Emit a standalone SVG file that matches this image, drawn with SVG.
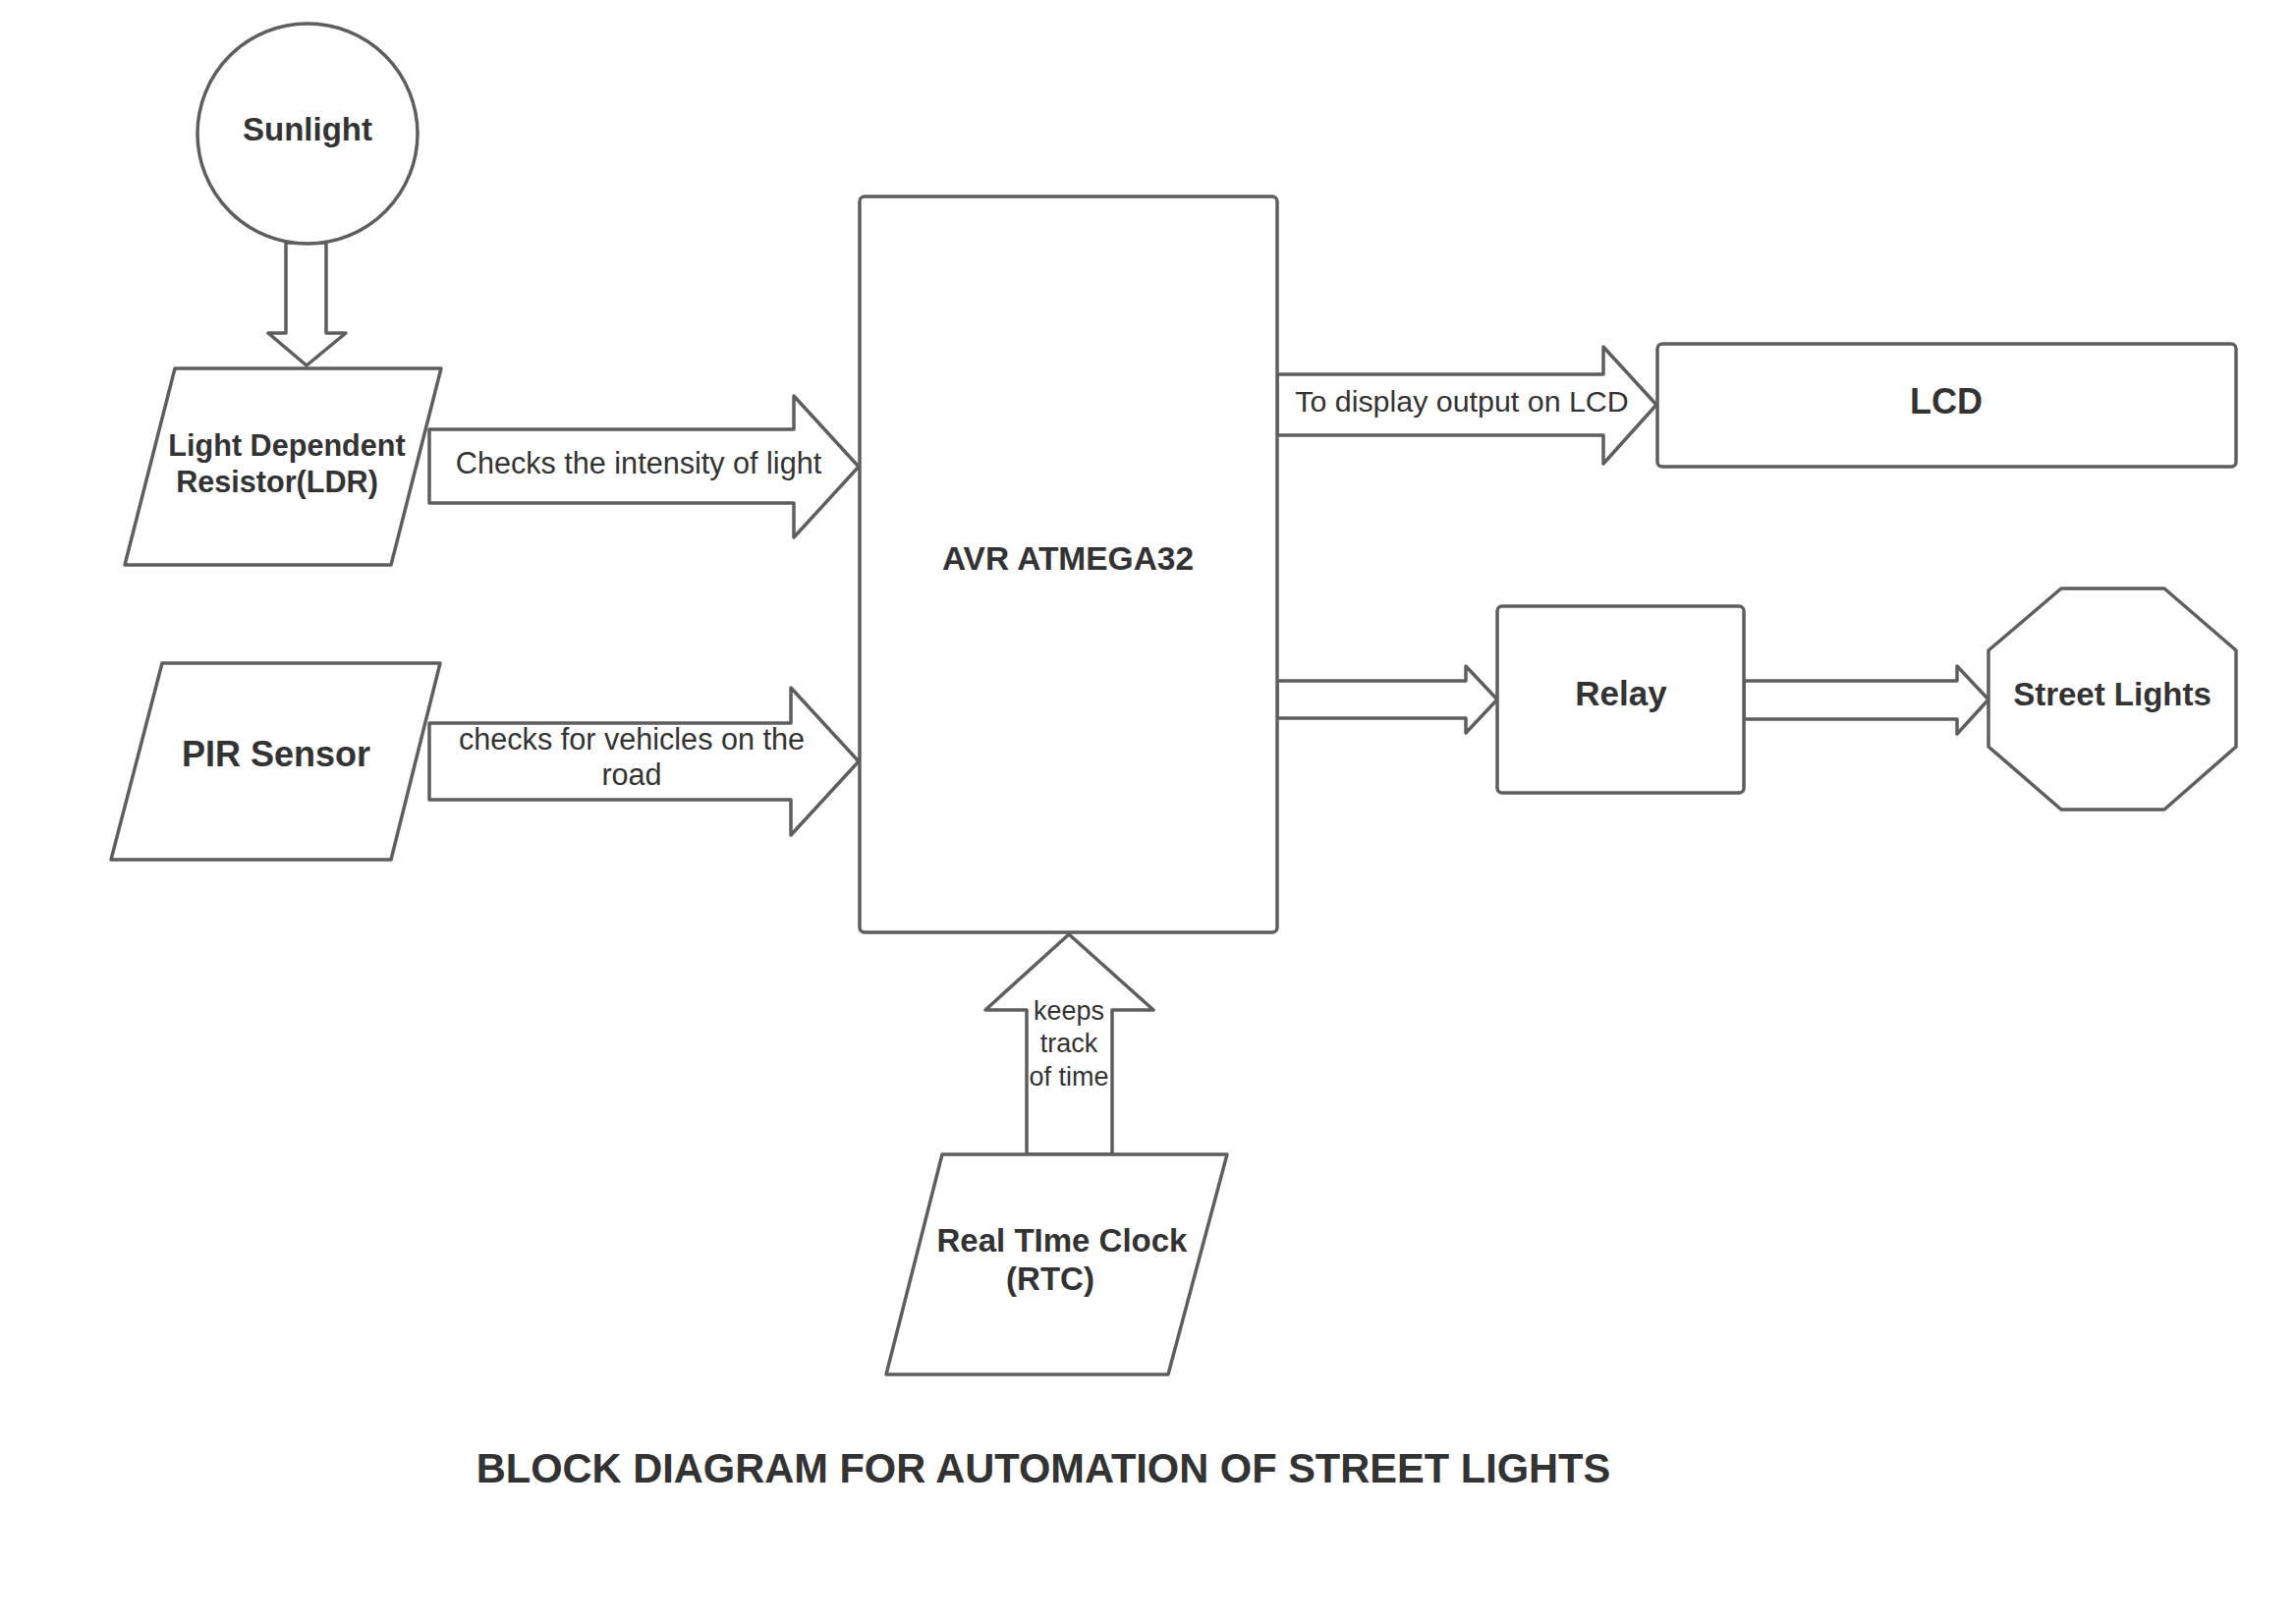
<svg xmlns="http://www.w3.org/2000/svg" width="2337" height="1653" viewBox="0 0 2337 1653">
<style>
.s{fill:#ffffff;stroke:#5e5e5e;stroke-width:3.5;stroke-linejoin:round}
.b{font-family:"Liberation Sans",Arial,sans-serif;font-weight:bold;fill:#333333;text-anchor:middle}
.r{font-family:"Liberation Sans",Arial,sans-serif;fill:#333333;text-anchor:middle}
</style>
<rect width="2337" height="1653" fill="#ffffff"/>
<g id="connectors">
  <path class="s" d="M291,247 L332,247 L332,339 L352,339 L312,372 L273,339 L291,339 Z"/>
  <path class="s" d="M437,437 L808,437 L808,403 L874,475 L808,547 L808,512 L437,512 Z"/>
  <path class="s" d="M437,736 L805,736 L805,700 L874,775 L805,850 L805,814 L437,814 Z"/>
  <path class="s" d="M1300,381 L1632,381 L1632,353 L1686,412 L1632,472 L1632,443 L1300,443 Z"/>
  <path class="s" d="M1300,693 L1492,693 L1492,678 L1524,712 L1492,746 L1492,731 L1300,731 Z"/>
  <path class="s" d="M1775,693 L1992,693 L1992,678 L2024,712 L1992,747 L1992,732 L1775,732 Z"/>
  <path class="s" d="M1045,1175 L1045,1028 L1003,1028 L1088,951 L1174,1028 L1132,1028 L1132,1175 Z"/>
  <text class="r" font-size="30.6" x="650" y="482">Checks the intensity of light</text>
  <text class="r" font-size="30.6" x="643" y="763">checks for vehicles on the</text>
  <text class="r" font-size="30.6" x="643" y="799">road</text>
  <text class="r" font-size="30.4" x="1488" y="419">To display output on LCD</text>
  <text class="r" font-size="27" x="1088" y="1038">keeps</text>
  <text class="r" font-size="27" x="1088" y="1071">track</text>
  <text class="r" font-size="27" x="1088" y="1105">of time</text>
</g>
<g id="sunlight">
  <circle class="s" cx="313" cy="136" r="112"/>
  <text class="b" font-size="33" x="313" y="143">Sunlight</text>
</g>
<g id="ldr">
  <path class="s" d="M178,375 L449,375 L398,575 L127,575 Z"/>
  <text class="b" font-size="30.6" x="292" y="464">Light Dependent</text>
  <text class="b" font-size="30.6" x="282" y="501">Resistor(LDR)</text>
</g>
<g id="pir">
  <path class="s" d="M165,675 L448,675 L398,875 L113,875 Z"/>
  <text class="b" font-size="36" x="281" y="780">PIR Sensor</text>
</g>
<g id="avr">
  <rect class="s" x="875" y="200" width="425" height="749" rx="5"/>
  <text class="b" font-size="33.5" x="1087" y="580">AVR ATMEGA32</text>
</g>
<g id="lcd">
  <rect class="s" x="1687" y="350" width="589" height="125" rx="5"/>
  <text class="b" font-size="36" x="1981" y="421">LCD</text>
</g>
<g id="relay">
  <rect class="s" x="1524" y="617" width="251" height="190" rx="5"/>
  <text class="b" font-size="35" x="1650" y="718">Relay</text>
</g>
<g id="streetlights">
  <path class="s" d="M2098,599 L2203,599 L2276,662 L2276,760 L2203,824 L2098,824 L2024,760 L2024,662 Z"/>
  <text class="b" font-size="33" x="2150" y="718">Street Lights</text>
</g>
<g id="rtc">
  <path class="s" d="M959,1175 L1249,1175 L1189,1399 L902,1399 Z"/>
  <text class="b" font-size="33" x="1081" y="1274">Real TIme Clock</text>
  <text class="b" font-size="33" x="1069" y="1313">(RTC)</text>
</g>
<g id="title">
  <text class="b" font-size="41.6" x="1062" y="1509">BLOCK DIAGRAM FOR AUTOMATION OF STREET LIGHTS</text>
</g>
</svg>
